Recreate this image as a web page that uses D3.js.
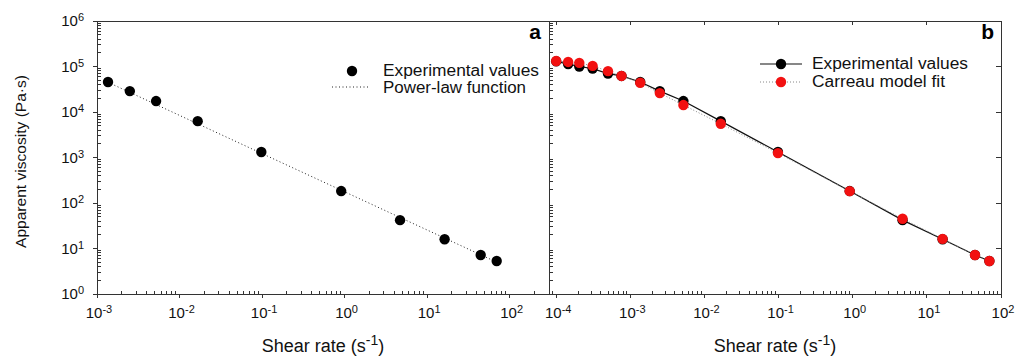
<!DOCTYPE html>
<html>
<head>
<meta charset="utf-8">
<script src="https://cdn.jsdelivr.net/npm/d3@7"></script>
<style>
  body { margin: 0; background: #fff; }
  svg { display: block; font-family: "Liberation Sans", Arial, sans-serif; }
</style>
</head>
<body>
<div id="chart"></div>
<script>
// panel a: experimental values + power-law function
const shearA = [1.36e-3, 2.5e-3, 5.2e-3, 1.66e-2, 0.098, 0.91, 4.7, 16.3, 44.6, 69.7];
const viscA = [45700, 28800, 17400, 6300, 1320, 183, 42, 16, 7.2, 5.3];
const powerLawX = [1.36e-3, 69.7];
const powerLawY = [45000, 5.0];

// panel b: experimental values + Carreau model fit
const shearB = [1.0e-4, 1.45e-4, 2.05e-4, 3.1e-4, 5.0e-4, 7.6e-4, 1.36e-3, 2.5e-3, 5.2e-3, 1.66e-2, 0.098, 0.91, 4.7, 16.3, 44.6, 69.7];
const viscB = [1.3e5, 1.13e5, 1.0e5, 9.0e4, 7.0e4, 6.2e4, 45700, 28800, 17400, 6300, 1320, 183, 42, 16, 7.2, 5.3];
const carreauB = [1.32e5, 1.26e5, 1.2e5, 1.03e5, 7.9e4, 6.2e4, 4.4e4, 2.6e4, 1.42e4, 5.5e3, 1.25e3, 182, 45, 16.3, 7.2, 5.3];

const yExps = [0, 1, 2, 3, 4, 5, 6];
const xExpsA = [-3, -2, -1, 0, 1, 2];
const xExpsB = [-4, -3, -2, -1, 0, 1, 2];

const width = 1015, height = 356,
    plotTop = 21, plotBottom = 294,
    axisColor = '#333';

const svg = d3.select('#chart')
    .append('svg')
    .attr('width', width)
    .attr('height', height);

const y = d3.scaleLog().domain([1, 1e6]).range([plotBottom, plotTop]);
const xA = d3.scaleLog().domain([1e-3, 300]).range([97, 549]);
const xB = d3.scaleLog().domain([8e-5, 100]).range([549, 1001]);

function minorValues(scale) {
    let d = scale.domain(), out = [];
    let lo = Math.floor(Math.log10(d[0])), hi = Math.ceil(Math.log10(d[1]));
    for (let e = lo; e < hi; e++) {
        for (let m = 2; m < 10; m++) {
            let v = m * Math.pow(10, e);
            if (v > d[0] && v < d[1]) out.push(v);
        }
    }
    return out;
}

function powLabel(sel, exp) {
    sel.append('tspan').text('10');
    sel.append('tspan')
        .attr('dy', -5)
        .style('font-size', '11px')
        .text(exp);
}

function line(x1, y1, x2, y2) {
    return svg.append('line')
        .attr('x1', x1).attr('y1', y1)
        .attr('x2', x2).attr('y2', y2)
        .style('stroke', axisColor)
        .style('stroke-width', 1)
        .style('shape-rendering', 'crispEdges');
}

function bottomAxis(x, exps) {
    let r = x.range();
    line(r[0], plotBottom, r[1], plotBottom);
    exps.forEach(e => {
        let px = x(Math.pow(10, e));
        line(px, plotBottom, px, plotBottom + 4);
        svg.append('text')
            .attr('x', px + 2)
            .attr('y', 318)
            .attr('text-anchor', 'middle')
            .style('font-size', '15px')
            .style('fill', '#111')
            .call(powLabel, e);
    });
    minorValues(x).forEach(v => line(x(v), plotBottom, x(v), plotBottom - 3));

    svg.append('text')
        .attr('x', (r[0] + r[1]) / 2)
        .attr('y', 352)
        .attr('text-anchor', 'middle')
        .style('font-size', '18px')
        .style('fill', '#111')
        .call(t => {
            t.append('tspan').text('Shear rate (s');
            t.append('tspan').attr('dy', -7).style('font-size', '14px').text('-1');
            t.append('tspan').attr('dy', 7).text(')');
        });
}

// frame lines
line(97, plotTop, 1001, plotTop);
line(97, plotTop, 97, plotBottom);
line(549, plotTop, 549, plotBottom);
line(1001, plotTop, 1001, plotBottom);

// left y axis (panel a)
yExps.forEach(e => {
    let py = y(Math.pow(10, e));
    line(93, py, 97, py);
    svg.append('text')
        .attr('x', 84)
        .attr('y', py + 5)
        .attr('text-anchor', 'end')
        .style('font-size', '15px')
        .style('fill', '#111')
        .call(powLabel, e);
});
minorValues(y).forEach(v => {
    line(97, y(v), 101, y(v));
    line(549, y(v), 553, y(v));
});
// right axis and top axis of panel b: major ticks inward
yExps.forEach(e => line(996, y(Math.pow(10, e)), 1001, y(Math.pow(10, e))));
xExpsB.forEach(e => line(xB(Math.pow(10, e)), plotTop, xB(Math.pow(10, e)), plotTop + 4));

bottomAxis(xA, xExpsA);
bottomAxis(xB, xExpsB);

svg.append('text')
    .attr('transform', 'translate(20,' + ((plotTop + plotBottom) / 2 + 4) + ') rotate(-90)')
    .attr('text-anchor', 'middle')
    .attr('dominant-baseline', 'central')
    .attr('textLength', 173)
    .attr('lengthAdjust', 'spacingAndGlyphs')
    .style('font-size', '15.5px')
    .style('fill', '#111')
    .text('Apparent viscosity (Pa\u00b7s)');

// panel letters
[['a', 541], ['b', 994]].forEach(d => {
    svg.append('text')
        .attr('x', d[1])
        .attr('y', 39)
        .attr('text-anchor', 'end')
        .style('font-size', '21px')
        .style('font-weight', 'bold')
        .text(d[0]);
});

// ---- panel a
svg.append('path')
    .datum(d3.zip(powerLawX, powerLawY))
    .attr('d', d3.line().x(d => xA(d[0])).y(d => y(d[1])))
    .style('fill', 'none')
    .style('stroke', '#222')
    .style('stroke-width', 1)
    .style('stroke-dasharray', '1,2.5');

svg.selectAll('.ptA')
    .data(d3.zip(shearA, viscA))
    .join('circle')
    .attr('class', 'ptA')
    .attr('cx', d => xA(d[0]))
    .attr('cy', d => y(d[1]))
    .attr('r', 5.2)
    .style('fill', '#000');

// ---- panel b
const lineB = d3.line().x(d => xB(d[0])).y(d => y(d[1]));

svg.append('path')
    .datum(d3.zip(shearB, viscB))
    .attr('d', lineB)
    .style('fill', 'none')
    .style('stroke', '#111')
    .style('stroke-width', 1.2);

svg.selectAll('.ptB')
    .data(d3.zip(shearB, viscB))
    .join('circle')
    .attr('class', 'ptB')
    .attr('cx', d => xB(d[0]))
    .attr('cy', d => y(d[1]))
    .attr('r', 5.2)
    .style('fill', '#000');

svg.append('path')
    .datum(d3.zip(shearB, carreauB))
    .attr('d', lineB)
    .style('fill', 'none')
    .style('stroke', '#888')
    .style('stroke-width', 1)
    .style('stroke-dasharray', '1,2');

svg.selectAll('.ptC')
    .data(d3.zip(shearB, carreauB))
    .join('circle')
    .attr('class', 'ptC')
    .attr('cx', d => xB(d[0]))
    .attr('cy', d => y(d[1]))
    .attr('r', 5.2)
    .style('fill', '#f21111');

// legends
function legendText(x, yy, str, len) {
    svg.append('text')
        .attr('x', x)
        .attr('y', yy)
        .attr('textLength', len)
        .attr('lengthAdjust', 'spacingAndGlyphs')
        .style('font-size', '16px')
        .style('fill', '#111')
        .text(str);
}

svg.append('circle').attr('cx', 352).attr('cy', 71).attr('r', 5.2).style('fill', '#000');
line(332, 87, 369, 87)
    .style('stroke', '#222')
    .style('stroke-dasharray', '1,2.5')
    .style('shape-rendering', null);
legendText(383, 76, 'Experimental values', 156);
legendText(383, 93, 'Power-law function', 143);

svg.append('line')
    .attr('x1', 760).attr('y1', 64).attr('x2', 802).attr('y2', 64)
    .style('stroke', '#111').style('stroke-width', 1.2);
svg.append('circle').attr('cx', 781).attr('cy', 64).attr('r', 5.2).style('fill', '#000');
svg.append('line')
    .attr('x1', 760).attr('y1', 82).attr('x2', 802).attr('y2', 82)
    .style('stroke', '#888').style('stroke-dasharray', '1,2');
svg.append('circle').attr('cx', 781).attr('cy', 82).attr('r', 5.2).style('fill', '#f21111');
legendText(812, 69, 'Experimental values', 156);
legendText(812, 87, 'Carreau model fit', 133);
</script>
</body>
</html>
